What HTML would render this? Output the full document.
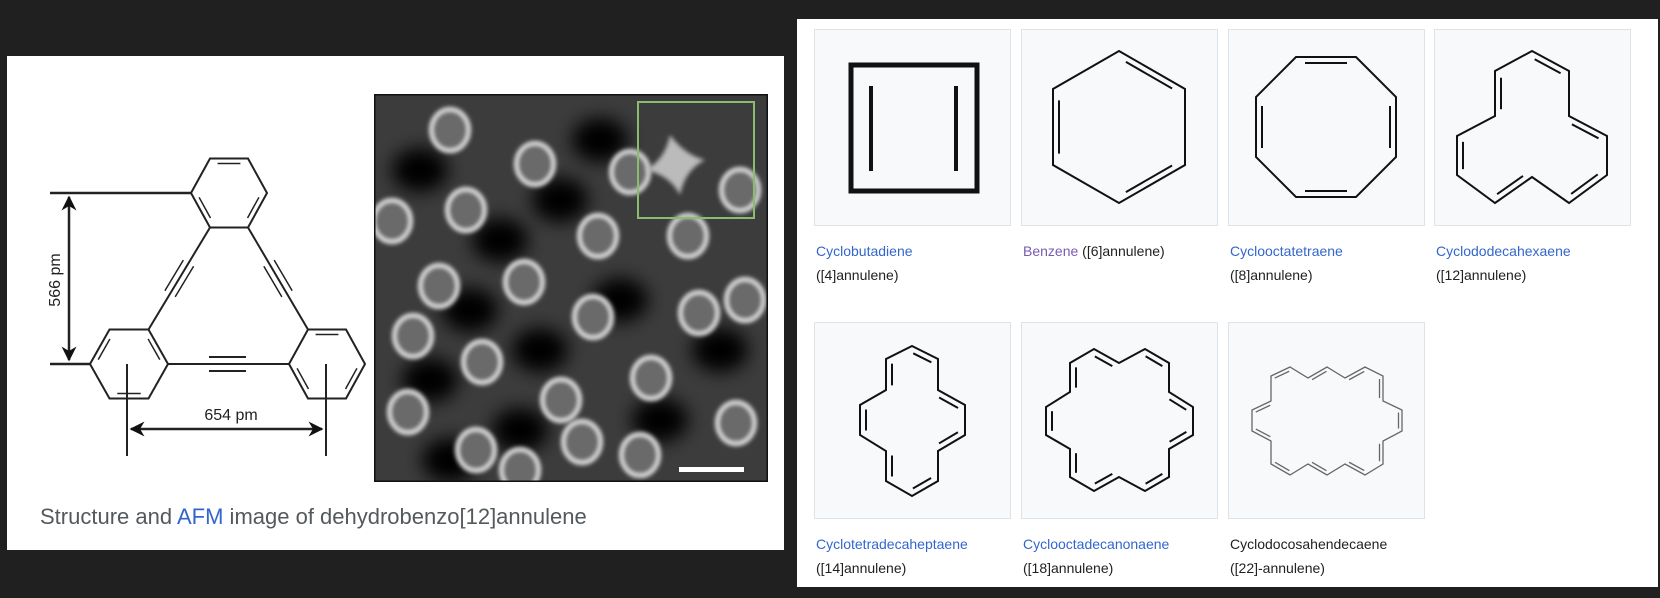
<!DOCTYPE html>
<html><head><meta charset="utf-8">
<style>
html,body{margin:0;padding:0;background:#202020;width:1660px;height:598px;overflow:hidden;font-family:"Liberation Sans",sans-serif}
#left{position:absolute;left:7px;top:56px;width:777px;height:494px;background:#fff}
#right{position:absolute;left:797px;top:19px;width:861px;height:568px;background:#fff}
.tile{position:absolute;width:197px;height:197px;background:#f8f9fa;border:1px solid #dfe2e6;box-sizing:border-box}
.lbl{position:absolute;font-size:14px;line-height:24px;color:#202122;white-space:nowrap}
.lnk{color:#3366cc}
.vis{color:#795cb2}
#caption{position:absolute;left:33px;top:448px;font-size:22px;color:#54595d;white-space:nowrap}
</style></head><body>
<div id="left">
<svg width="777" height="494" style="position:absolute;left:0;top:0">
<defs>
<filter id="blur" x="-50%" y="-50%" width="200%" height="200%"><feGaussianBlur stdDeviation="2.2"/></filter>
<filter id="blur2" x="-50%" y="-50%" width="200%" height="200%"><feGaussianBlur stdDeviation="9"/></filter>
<clipPath id="afmclip"><rect x="374" y="94" width="394" height="388"/></clipPath>
<marker id="ah" viewBox="0 0 10 10" refX="9" refY="5" markerWidth="6" markerHeight="6" orient="auto-start-reverse"><path d="M0,0L10,5L0,10L3,5z" fill="#111"/></marker>
</defs>
<g id="mol" stroke="#222" stroke-width="2" fill="none" transform="translate(-7,-56)"></g>
<g id="afm" transform="translate(-7,-56)"></g>
</svg>
<div id="caption">Structure and <span class="lnk">AFM</span> image of dehydrobenzo[12]annulene</div>
</div>
<div id="right"></div>
<script>
const NS="http://www.w3.org/2000/svg";
function mk(tag,attrs,parent){const e=document.createElementNS(NS,tag);for(const k in attrs)e.setAttribute(k,attrs[k]);parent.appendChild(e);return e;}
const mol=document.getElementById('mol');
function hexFlat(cx,cy,w,h,dbl){
  const pts=[[cx-w/2,cy],[cx-w/4,cy-h/2],[cx+w/4,cy-h/2],[cx+w/2,cy],[cx+w/4,cy+h/2],[cx-w/4,cy+h/2]];
  mk('polygon',{points:pts.map(p=>p.join(',')).join(' ')},mol);
  dbl.forEach(i=>{const a=pts[i],b=pts[(i+1)%6];const mx=(a[0]+b[0])/2,my=(a[1]+b[1])/2;
    const dx=cx-mx,dy=cy-my,L=Math.hypot(dx,dy),o=5;
    const f=t=>[a[0]+(b[0]-a[0])*t+dx/L*o,a[1]+(b[1]-a[1])*t+dy/L*o];
    const p=f(0.2),q=f(0.8);mk('line',{x1:p[0],y1:p[1],x2:q[0],y2:q[1],'stroke-width':1.5},mol);});
  return pts;
}
const t=hexFlat(229,193,76,69,[1,3,5]);
const bl=hexFlat(129,364,78,69,[0,2,4]);
const br=hexFlat(327,364,76,69,[1,3,5]);
mk('line',{x1:t[5][0],y1:t[5][1],x2:bl[2][0],y2:bl[2][1]},mol);
mk('line',{x1:t[4][0],y1:t[4][1],x2:br[1][0],y2:br[1][1]},mol);
mk('line',{x1:bl[3][0],y1:bl[3][1],x2:br[0][0],y2:br[0][1]},mol);
[-7,7].forEach(o=>mk('line',{x1:209,y1:364+o,x2:246,y2:364+o,'stroke-width':2},mol));
function tri(a,b){const dx=b[0]-a[0],dy=b[1]-a[1],L=Math.hypot(dx,dy),nx=-dy/L*6,ny=dx/L*6;
  [-1,1].forEach(s=>mk('line',{x1:a[0]+dx*0.35+nx*s,y1:a[1]+dy*0.35+ny*s,x2:a[0]+dx*0.65+nx*s,y2:a[1]+dy*0.65+ny*s,'stroke-width':1.5},mol));}
tri(t[5],bl[2]);tri(t[4],br[1]);
mk('line',{x1:50,y1:193,x2:191,y2:193,'stroke-width':2.5},mol);
mk('line',{x1:50,y1:364,x2:90,y2:364,'stroke-width':2.5},mol);
mk('line',{x1:69,y1:197,x2:69,y2:360,'marker-start':'url(#ah)','marker-end':'url(#ah)','stroke-width':2.5},mol);
mk('line',{x1:127,y1:364,x2:127,y2:456,'stroke-width':2},mol);
mk('line',{x1:326,y1:364,x2:326,y2:456,'stroke-width':2},mol);
mk('line',{x1:131,y1:429,x2:322,y2:429,'marker-start':'url(#ah)','marker-end':'url(#ah)','stroke-width':2.5},mol);
const t1=mk('text',{x:231,y:420,'font-size':16,'text-anchor':'middle',fill:'#222',stroke:'none','font-family':'Liberation Sans'},mol);t1.textContent='654 pm';

const t2=mk('text',{x:0,y:0,'font-size':16,'text-anchor':'middle',fill:'#222',stroke:'none',transform:'translate(60,280) rotate(-90)','font-family':'Liberation Sans'},mol);t2.textContent='566 pm';

// AFM
const afm=mk('g',{'clip-path':'url(#afmclip)'},document.getElementById('afm'));
mk('rect',{x:374,y:94,width:394,height:388,fill:'#3c3c3c'},afm);
const darks=[[420,170],[500,240],[560,200],[470,310],[620,300],[540,350],[430,380],[660,420],[520,430],[720,350],[600,140],[450,460]];
darks.forEach(d=>mk('ellipse',{cx:d[0],cy:d[1],rx:28,ry:22,fill:'#050505',filter:'url(#blur2)'},afm));
const blobs=[[450,130],[535,164],[630,172],[466,210],[392,221],[598,236],[688,236],[524,282],[439,286],[699,313],[593,317],[413,336],[482,362],[561,400],[651,378],[408,412],[476,450],[582,442],[736,423],[740,190],[640,455],[520,470],[745,300]];
blobs.forEach(b=>{
 mk('ellipse',{cx:b[0],cy:b[1],rx:19,ry:21,fill:'#6a6a6a',stroke:'#e6e6e6','stroke-width':4,filter:'url(#blur)'},afm);
});
mk('path',{d:'M670,135 q15,20 35,25 q-20,10 -25,35 q-10,-20 -35,-25 q20,-10 25,-35z',fill:'#bbb',filter:'url(#blur)'},afm);
mk('rect',{x:374,y:94,width:394,height:388,fill:'none',stroke:'#111','stroke-width':3},afm);
mk('rect',{x:638,y:102,width:116,height:116,fill:'none',stroke:'#8bbb6e','stroke-width':2},afm);
mk('rect',{x:679,y:467,width:65,height:5,fill:'#fff'},afm);
// Right gallery
const right=document.getElementById('right');
const ringDefs=[
 {name:'cyclobutadiene',pts:[[37,36],[163,36],[163,162],[37,162]],sq:true},
 {name:'benzene',pts:[[98,22],[164,60],[164,136],[98,174],[32,136],[32,60]]},
 {name:'cyclooctatetraene',pts:[[68,28],[128,28],[168,68],[168,128],[128,168],[68,168],[28,128],[28,68]]},
 {name:'cyclododecahexaene',pts:[[98,22],[135,42],[135,87],[173,107],[173,146],[135,174],[98,148],[61,174],[23,146],[23,107],[61,87],[61,42]]},
 {name:'cyclotetradecaheptaene',pts:[[98,24],[124,37],[124,68],[151,83],[151,113],[124,129],[124,159],[98,174],[72,159],[72,129],[46,113],[46,83],[72,68],[72,37]]},
 {name:'cyclooctadecanonaene',pts:[[73,27],[98,41],[124,27],[148,41],[148,70],[172,85],[172,113],[148,127],[148,155],[124,169],[98,155],[73,169],[49,155],[49,127],[25,113],[25,85],[49,70],[49,41]]},
 {name:'cyclodocosahendecaene',gray:true,pts:[[43,54],[62,45],[80,56],[99,45],[117,56],[137,45],[155,54],[155,79],[174,88],[174,109],[155,119],[155,142],[137,153],[117,142],[99,153],[80,142],[62,153],[43,142],[43,119],[24,109],[24,88],[43,79]]}
];
const labels=[
 ['Cyclobutadiene','([4]annulene)','lnk'],['Benzene',' ([6]annulene)','vis'],['Cyclooctatetraene','([8]annulene)','lnk'],['Cyclododecahexaene','([12]annulene)','lnk'],
 ['Cyclotetradecaheptaene','([14]annulene)','lnk'],['Cyclooctadecanonaene','([18]annulene)','lnk'],['Cyclodocosahendecaene','([22]-annulene)','']
];
const colX=[17,224,431,637], rowY=[10,303];
ringDefs.forEach((r,i)=>{
 const x=colX[i%4], y=rowY[Math.floor(i/4)];
 const tile=document.createElement('div');tile.className='tile';tile.style.left=x+'px';tile.style.top=y+'px';
 
 
 right.appendChild(tile);
 const s=mk('svg',{width:197,height:197,style:'position:absolute;left:-1px;top:-1px'},tile);
 const col=r.gray?'#666':'#111', sw=r.sq?5:(r.gray?1.3:2);
 const g=mk('g',{stroke:col,'stroke-width':sw,fill:'none','stroke-linejoin':'miter'},s);
 const P=r.pts,n=P.length;
 mk('polygon',{points:P.map(p=>p.join(',')).join(' ')},g);
 const cx=P.reduce((a,p)=>a+p[0],0)/n, cy=P.reduce((a,p)=>a+p[1],0)/n;
 if(r.sq){
  mk('line',{x1:57,y1:57,x2:57,y2:142,'stroke-width':4},g);
  mk('line',{x1:142,y1:57,x2:142,y2:142,'stroke-width':4},g);
 } else {
  for(let k=0;k<n;k+=2){
   const a=P[k],b=P[(k+1)%n];
   const dx=b[0]-a[0],dy=b[1]-a[1],L=Math.hypot(dx,dy);
   let nx=-dy/L,ny=dx/L;
   const mx=(a[0]+b[0])/2,my=(a[1]+b[1])/2;
   if((cx-mx)*nx+(cy-my)*ny<0){nx=-nx;ny=-ny;}
   const o=r.gray?3.5:6, sh=r.gray?0.12:0.15;
   mk('line',{x1:a[0]+dx*sh+nx*o,y1:a[1]+dy*sh+ny*o,x2:a[0]+dx*(1-sh)+nx*o,y2:a[1]+dy*(1-sh)+ny*o},g);
  }
 }
 const lb=labels[i];
 const d=document.createElement('div');d.className='lbl';d.style.left=(x+2)+'px';d.style.top=(y+210)+'px';
 
 
 if(i===1){d.innerHTML='<span class="vis">Benzene</span> ([6]annulene)';}
 else if(lb[2]){d.innerHTML='<span class="lnk">'+lb[0]+'</span><br>'+lb[1];}
 else{d.innerHTML=lb[0]+'<br>'+lb[1];}
 right.appendChild(d);
});
</script>
</body></html>
